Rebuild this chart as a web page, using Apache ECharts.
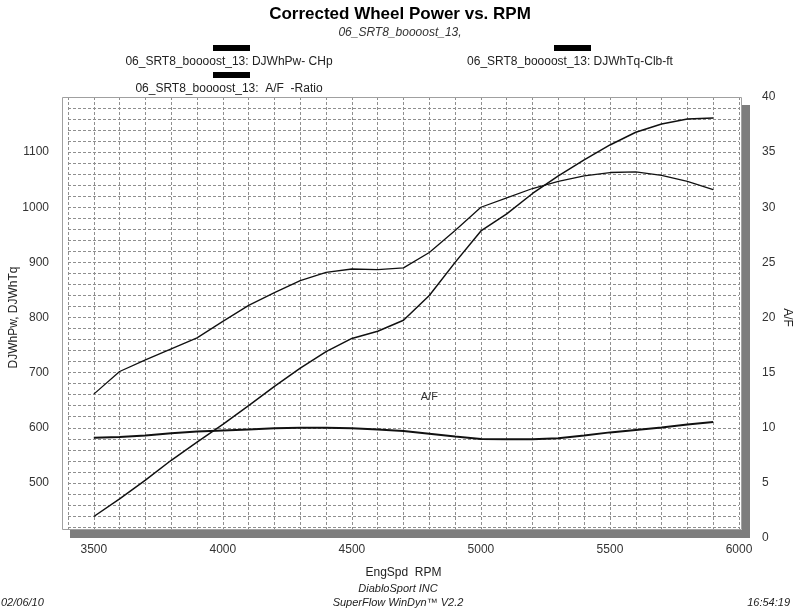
<!DOCTYPE html>
<html>
<head>
<meta charset="utf-8">
<title>Corrected Wheel Power vs. RPM</title>
<script src="https://cdn.jsdelivr.net/npm/echarts@6/dist/echarts.min.js"></script>
<style>
  html, body { margin: 0; padding: 0; background: #fff; }
  #chart { width: 800px; height: 611px; }
</style>
</head>
<body>
<div id="chart"></div>
<script>
// engine speed, rpm
const rpm = [3500, 3600, 3700, 3800, 3900, 4000, 4100, 4200, 4300, 4400, 4500, 4600, 4700,
  4800, 4900, 5000, 5100, 5200, 5300, 5400, 5500, 5600, 5700, 5800, 5900];
// DJWhPw (CHp)
const powerHp = [439, 471, 505, 541, 574, 606, 640, 675, 708, 738, 762, 775, 795,
  840, 900, 957, 988, 1025, 1057, 1086, 1113, 1136, 1151, 1160, 1162];
// DJWhTq (Clb-ft)
const torqueLbFt = [661, 702, 723, 743, 763, 793, 822, 845, 867, 882, 888, 887, 890,
  918, 958, 1000, 1017, 1034, 1047, 1057, 1063, 1064, 1058, 1047, 1032];
// A/F ratio
const afRatio = [9.1, 9.15, 9.3, 9.5, 9.65, 9.75, 9.85, 9.95, 10.0, 10.0, 9.95, 9.85, 9.7,
  9.45, 9.2, 8.97, 8.95, 8.95, 9.05, 9.3, 9.58, 9.8, 10.02, 10.3, 10.52];

const rpmTicks = [3500, 4000, 4500, 5000, 5500, 6000];
const leftTicks = [500, 600, 700, 800, 900, 1000, 1100];
const rightTicks = [0, 5, 10, 15, 20, 25, 30, 35, 40];

const runName = '06_SRT8_boooost_13';
const seriesNames = [
  runName + ': DJWhPw- CHp',
  runName + ': DJWhTq-Clb-ft',
  runName + ':  A/F  -Ratio'
];

const FONT = '"Liberation Sans", Arial, sans-serif';
const gridLine = { color: '#8f8f8f', width: 1, type: [3, 2] };
const plain = v => String(v);

const chart = echarts.init(document.getElementById('chart'), null, { renderer: 'canvas' });

function pairs(ys) {
  return rpm.map((r, i) => [r, ys[i]]);
}

// legend: a thick bar above each label
function legendItem(name, cx, barY, textY) {
  return [
    { type: 'rect', z: 10, shape: { x: cx - 18, y: barY, width: 37, height: 6 }, style: { fill: '#000' } },
    { type: 'text', z: 10, x: cx - 2, y: textY,
      style: { text: name, font: '12px ' + FONT, fill: '#222', align: 'center', verticalAlign: 'middle' } }
  ];
}

function footText(text, x, y, align) {
  return { type: 'text', z: 10, x: x, y: y,
    style: { text: text, font: 'italic 11px ' + FONT, fill: '#222', align: align, verticalAlign: 'middle' } };
}

const option = {
  animation: false,
  backgroundColor: '#fff',
  title: {
    text: 'Corrected Wheel Power vs. RPM',
    subtext: runName + ',',
    left: 'center',
    top: 1,
    itemGap: 4,
    textStyle: { fontFamily: FONT, fontSize: 17, fontWeight: 'bold', color: '#000' },
    subtextStyle: { fontFamily: FONT, fontSize: 12, fontStyle: 'italic', color: '#333' }
  },
  grid: { left: 68, right: 61, top: 97, bottom: 73, outerBoundsMode: 'none', containLabel: false },
  xAxis: {
    type: 'value',
    min: 3400,
    max: 6000,
    interval: 100,
    name: 'EngSpd  RPM',
    nameLocation: 'middle',
    nameGap: 29,
    nameMoveOverlap: false,
    nameTextStyle: { fontFamily: FONT, fontSize: 12, color: '#222' },
    axisLine: { show: false },
    axisTick: { show: false },
    axisLabel: { customValues: rpmTicks, formatter: plain, margin: 6, fontFamily: FONT, fontSize: 12, color: '#333' },
    splitLine: { show: true, lineStyle: gridLine }
  },
  yAxis: [
    {
      type: 'value',
      position: 'left',
      min: 400,
      max: 1200,
      interval: 20,
      name: 'DJWhPw, DJWhTq',
      nameLocation: 'middle',
      nameGap: 48,
      nameMoveOverlap: false,
      nameTextStyle: { fontFamily: FONT, fontSize: 12, color: '#222' },
      axisLine: { show: false },
      axisTick: { show: false },
      axisLabel: { customValues: leftTicks, formatter: plain, margin: 19, fontFamily: FONT, fontSize: 12, color: '#333' },
      splitLine: { show: true, showMinLine: false, lineStyle: gridLine }
    },
    {
      type: 'value',
      position: 'right',
      min: 0,
      max: 40,
      interval: 1,
      name: 'A/F',
      nameLocation: 'middle',
      nameRotate: -90,
      nameGap: 42,
      nameMoveOverlap: false,
      nameTextStyle: { fontFamily: FONT, fontSize: 12, color: '#222' },
      axisLine: { show: false },
      axisTick: { show: false },
      axisLabel: { customValues: rightTicks, formatter: plain, margin: 23, fontFamily: FONT, fontSize: 12, color: '#333' },
      splitLine: { show: false }
    }
  ],
  series: [
    {
      name: seriesNames[0],
      type: 'line',
      yAxisIndex: 0,
      data: pairs(powerHp),
      showSymbol: false,
      lineStyle: { color: '#111', width: 1.5 }
    },
    {
      name: seriesNames[1],
      type: 'line',
      yAxisIndex: 0,
      data: pairs(torqueLbFt),
      showSymbol: false,
      lineStyle: { color: '#111', width: 1.3 }
    },
    {
      name: seriesNames[2],
      type: 'line',
      yAxisIndex: 1,
      data: pairs(afRatio),
      showSymbol: false,
      lineStyle: { color: '#111', width: 2 },
      markPoint: {
        symbol: 'circle',
        symbolSize: 0,
        label: { show: true, formatter: 'A/F', fontFamily: FONT, fontSize: 11, color: '#333' },
        data: [{ coord: [4800, 12.8] }]
      }
    }
  ],
  graphic: [
    // plot frame with drop shadow
    { type: 'rect', z: 5, shape: { x: 62, y: 530, width: 8, height: 9 }, style: { fill: '#fff' } },
    { type: 'rect', z: 5, shape: { x: 742, y: 105, width: 8, height: 433 }, style: { fill: '#7d7d7d' } },
    { type: 'rect', z: 5, shape: { x: 70, y: 530, width: 680, height: 8 }, style: { fill: '#7d7d7d' } },
    { type: 'rect', z: 5, shape: { x: 62.5, y: 97.5, width: 679, height: 432 },
      style: { fill: null, stroke: '#a0a0a0', lineWidth: 1 } },
    ...legendItem(seriesNames[0], 231, 45, 62),
    ...legendItem(seriesNames[1], 572, 45, 62),
    ...legendItem(seriesNames[2], 231, 72, 89),
    footText('DiabloSport INC', 398, 589, 'center'),
    footText('SuperFlow WinDyn\u2122 V2.2', 398, 603, 'center'),
    footText('02/06/10', 1, 603, 'left'),
    footText('16:54:19', 790, 603, 'right')
  ]
};

chart.setOption(option);
</script>
</body>
</html>
